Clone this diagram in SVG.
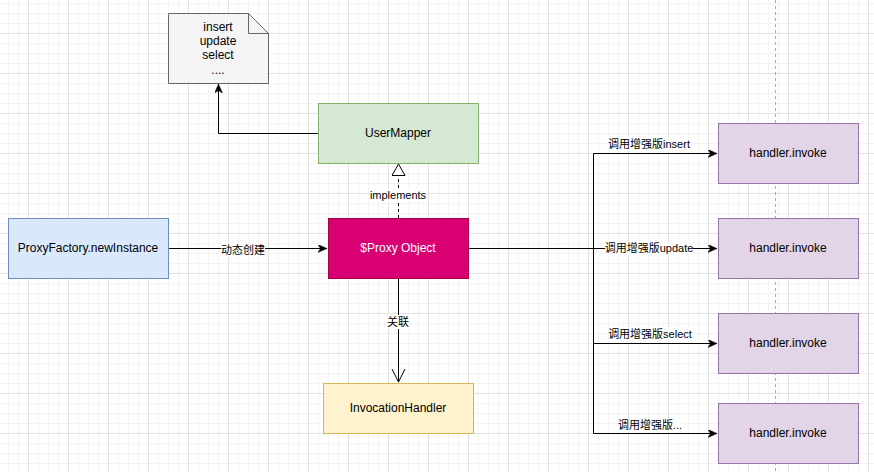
<svg xmlns="http://www.w3.org/2000/svg" width="874" height="472" viewBox="0 0 874 472">
<defs>
  <pattern id="minor" x="8" y="3" width="10" height="10" patternUnits="userSpaceOnUse">
    <path d="M0.5,0 V10 M0,0.5 H10" stroke="#f4f4f4" stroke-width="1" fill="none"/>
  </pattern>
  <pattern id="major" x="28" y="33" width="40" height="40" patternUnits="userSpaceOnUse">
    <path d="M0.5,0 V40 M0,0.5 H40" stroke="#e2e2e2" stroke-width="1" fill="none"/>
  </pattern>
  <marker id="block" markerUnits="userSpaceOnUse" markerWidth="10" markerHeight="8" refX="9" refY="4" orient="auto">
    <path d="M0,0 L9,4 L0,8 L2.5,4 Z" fill="#000" stroke="#000" stroke-width="0.5"/>
  </marker>
  <marker id="hollow" markerUnits="userSpaceOnUse" markerWidth="14" markerHeight="16" refX="12" refY="7" orient="auto">
    <path d="M0.5,0.5 L12,7 L0.5,13.5 Z" fill="#fff" stroke="#000" stroke-width="1"/>
  </marker>
  <marker id="open" markerUnits="userSpaceOnUse" markerWidth="15" markerHeight="16" refX="13" refY="7" orient="auto">
    <path d="M0,0.5 L13,7 L0,13.5" fill="none" stroke="#000" stroke-width="1"/>
  </marker>
</defs>
<style>
  .t{font-family:"Liberation Sans","Noto Sans CJK SC",Arial,sans-serif;font-size:12px;fill:#000;text-anchor:middle;dominant-baseline:central}
  .l{font-family:"Liberation Sans","Noto Sans CJK SC",Arial,sans-serif;font-size:11px;fill:#000;text-anchor:middle;dominant-baseline:central}
  .e{fill:none;stroke:#000;stroke-width:1}
  .bg{fill:#fff}
  .inv{fill:#e1d5e7;stroke:#9673a6;stroke-width:1}
</style>
<rect width="874" height="472" fill="#fff"/>
<rect width="874" height="472" fill="url(#minor)"/>
<rect width="874" height="472" fill="url(#major)"/>
<line x1="775.5" y1="0" x2="775.5" y2="472" stroke="#aaaaaa" stroke-width="1" stroke-dasharray="3 3"/>

<g id="connectors">
  <path class="e" d="M318,133.5 H218.5 V84" marker-end="url(#block)"/>
  <path class="e" d="M398.5,218 V164" stroke-dasharray="3 3" marker-end="url(#hollow)"/>
  <rect class="bg" x="371" y="188" width="55" height="14"/>
  <text class="l" x="398" y="195">implements</text>
  <path class="e" d="M168,248.5 H327" marker-end="url(#block)"/>
  <rect class="bg" x="221" y="243" width="44" height="14"/>
  <text class="l" x="243" y="250">动态创建</text>
  <path class="e" d="M398.5,278 V382" marker-end="url(#open)"/>
  <rect class="bg" x="387" y="315" width="22" height="14"/>
  <text class="l" x="398" y="322">关联</text>
  <path class="e" d="M468,248.5 H717" marker-end="url(#block)"/>
  <path class="e" d="M593.5,248 V153.5 H717" marker-end="url(#block)"/>
  <path class="e" d="M593.5,248 V343.5 H717" marker-end="url(#block)"/>
  <path class="e" d="M593.5,343 V433.5 H717" marker-end="url(#block)"/>
  <rect class="bg" x="608" y="137" width="83" height="14"/>
  <text class="l" x="649" y="144">调用增强版insert</text>
  <rect class="bg" x="605" y="241" width="88" height="14"/>
  <text class="l" x="649" y="248">调用增强版update</text>
  <rect class="bg" x="609" y="327" width="83" height="14"/>
  <text class="l" x="650" y="334">调用增强版select</text>
  <rect class="bg" x="618" y="418" width="64" height="14"/>
  <text class="l" x="650" y="425">调用增强版...</text>
</g>

<g id="note">
  <path d="M168.5,13.5 H248.5 L268.5,33.5 V83.5 H168.5 Z" fill="#f5f5f5" stroke="#666666" stroke-width="1"/>
  <path d="M248.5,13.5 V33.5 H268.5" fill="none" stroke="#666666" stroke-width="1"/>
  <text class="t" x="218" y="27">insert</text>
  <text class="t" x="218" y="41">update</text>
  <text class="t" x="218" y="55">select</text>
  <text class="t" x="218" y="70">....</text>
</g>
<g id="userMapper">
  <rect x="318.5" y="103.5" width="160" height="60" fill="#d5e8d4" stroke="#82b366"/>
  <text class="t" x="398" y="133">UserMapper</text>
</g>
<g id="proxyFactory">
  <rect x="8.5" y="218.5" width="160" height="60" fill="#dae8fc" stroke="#6c8ebf"/>
  <text class="t" x="88" y="248">ProxyFactory.newInstance</text>
</g>
<g id="proxyObject">
  <rect x="328.5" y="218.5" width="140" height="60" fill="#d80073" stroke="#a50040"/>
  <text class="t" x="398" y="248" style="fill:#fff">$Proxy Object</text>
</g>
<g id="invocationHandler">
  <rect x="323.5" y="383.5" width="150" height="50" fill="#fff2cc" stroke="#d6b656"/>
  <text class="t" x="398" y="408">InvocationHandler</text>
</g>
<g id="invoke1">
  <rect class="inv" x="718.5" y="123.5" width="140" height="60"/>
  <text class="t" x="788" y="153">handler.invoke</text>
</g>
<g id="invoke2">
  <rect class="inv" x="718.5" y="218.5" width="140" height="60"/>
  <text class="t" x="788" y="248">handler.invoke</text>
</g>
<g id="invoke3">
  <rect class="inv" x="718.5" y="313.5" width="140" height="60"/>
  <text class="t" x="788" y="343">handler.invoke</text>
</g>
<g id="invoke4">
  <rect class="inv" x="718.5" y="403.5" width="140" height="60"/>
  <text class="t" x="788" y="433">handler.invoke</text>
</g>
</svg>
